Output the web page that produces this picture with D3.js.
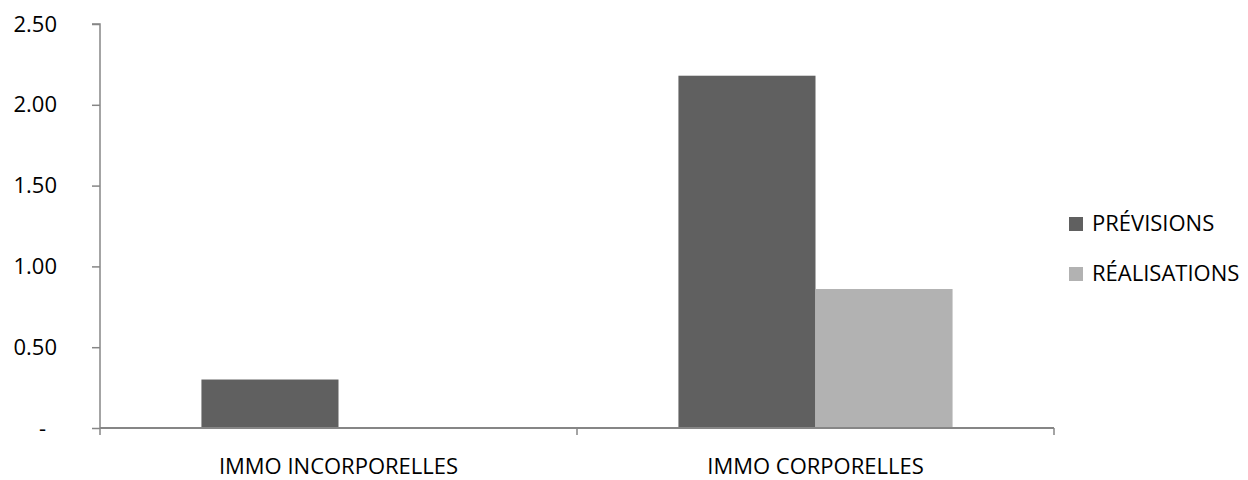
<!DOCTYPE html>
<html>
<head>
<meta charset="utf-8">
<script src="https://cdn.jsdelivr.net/npm/d3@7"></script>
<style>
  html, body { margin: 0; padding: 0; background: #fff; }
  svg { display: block; }
  text { font-family: "Open Sans", Lato, sans-serif; fill: #000; }
</style>
</head>
<body>
<svg id="chart" width="1248" height="480"></svg>
<script>
// Investment amounts per category
const categories = ["IMMO INCORPORELLES", "IMMO CORPORELLES"];
const seriesNames = ["PRÉVISIONS", "RÉALISATIONS"];
const previsions = [0.30, 2.18];
const realisations = [0.00, 0.86];
const yTicks = [0, 0.5, 1.0, 1.5, 2.0, 2.5];
const colors = ["#606060", "#b2b2b2"];

const svg = d3.select("#chart");
const plotLeft = 100, plotRight = 1054, plotTop = 24, plotBottom = 428;
const axisColor = "#868686";
const fontSize = 22;

const x0 = d3.scaleBand().domain(categories).range([plotLeft, plotRight]).paddingInner(0).paddingOuter(0);
const x1 = d3.scaleBand().domain(seriesNames).range([0, x0.bandwidth()]).paddingInner(0).paddingOuter(0.74);
const y = d3.scaleLinear().domain([0, 2.5]).range([plotBottom, plotTop]);

const rows = categories.map((c, i) => ({ cat: c, values: [previsions[i], realisations[i]] }));

// Bars
const groups = svg.append("g").selectAll("g").data(rows).join("g")
  .attr("transform", d => `translate(${x0(d.cat)},0)`);
groups.selectAll("rect")
  .data(d => d.values.map((v, j) => ({ name: seriesNames[j], v, j })).filter(d => d.v > 0))
  .join("rect")
  .attr("x", d => x1(d.name))
  .attr("y", d => y(d.v))
  .attr("width", x1.bandwidth())
  .attr("height", d => y(0) - y(d.v))
  .attr("fill", d => colors[d.j]);

// Y axis (accounting style: zero shown as a dash, set slightly left)
const yAxis = svg.append("g").attr("transform", `translate(${plotLeft},0)`)
  .call(d3.axisLeft(y).tickValues(yTicks).tickSize(8).tickPadding(35)
    .tickFormat(v => v === 0 ? "-" : d3.format(".2f")(v)));
yAxis.select(".domain").attr("stroke", axisColor).attr("stroke-width", 1.5).attr("d", `M-8,${plotTop}H0V${plotBottom}`);
yAxis.selectAll(".tick line").attr("stroke", axisColor).attr("stroke-width", 1.5);
yAxis.selectAll(".tick text").attr("font-size", fontSize).attr("font-family", "'Open Sans', sans-serif").attr("fill", "#000")
  .attr("dx", d => d === 0 ? -11 : 0);

// X axis
const boundaries = [plotLeft, ...categories.map(c => x0(c) + x0.bandwidth())];
svg.append("line").attr("x1", plotLeft).attr("x2", plotRight).attr("y1", plotBottom).attr("y2", plotBottom)
  .attr("stroke", axisColor).attr("stroke-width", 2);
svg.append("g").selectAll("line").data(boundaries).join("line")
  .attr("x1", d => d).attr("x2", d => d).attr("y1", plotBottom).attr("y2", plotBottom + 7)
  .attr("stroke", axisColor).attr("stroke-width", 1.5);
svg.append("g").selectAll("text").data(categories).join("text")
  .attr("x", d => x0(d) + x0.bandwidth() / 2)
  .attr("y", 474)
  .attr("text-anchor", "middle")
  .attr("font-size", fontSize)
  .text(d => d);

// Legend
const legend = svg.append("g").selectAll("g").data(seriesNames).join("g")
  .attr("transform", (d, i) => `translate(1069,${217 + i * 50})`);
legend.append("rect").attr("width", 14).attr("height", 14).attr("fill", (d, i) => colors[i]);
legend.append("text").attr("x", 23).attr("y", 13.5).attr("font-size", fontSize).text(d => d);
</script>
</body>
</html>
